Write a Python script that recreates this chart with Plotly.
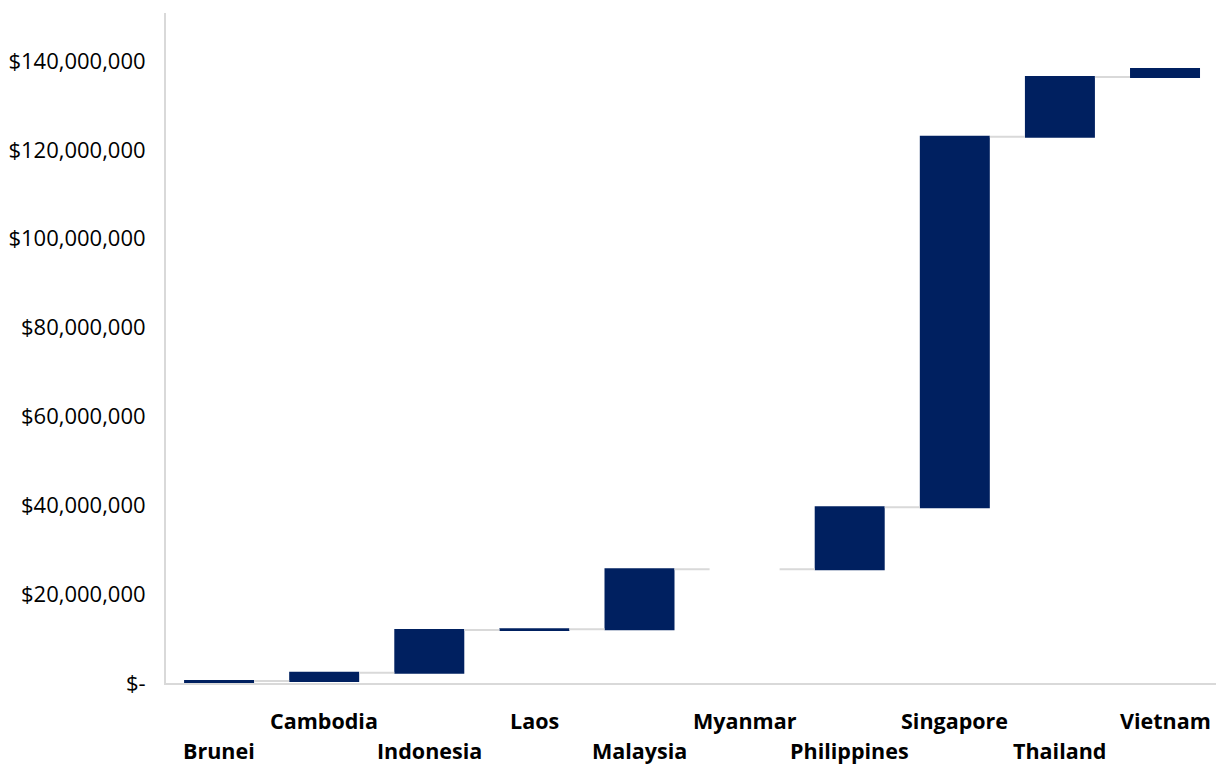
import plotly.graph_objects as go

countries = ["Brunei", "Cambodia", "Indonesia", "Laos", "Malaysia", "Myanmar",
             "Philippines", "Singapore", "Thailand", "Vietnam"]
values = [450000, 1870000, 9600000, 150000, 13550000, 0,
          13950000, 83350000, 13450000, 1800000]
tick_vals = [0, 20000000, 40000000, 60000000, 80000000, 100000000, 120000000, 140000000]
tick_text = ["$-", "$20,000,000", "$40,000,000", "$60,000,000", "$80,000,000",
             "$100,000,000", "$120,000,000", "$140,000,000"]
label_row = [1, 0, 1, 0, 1, 0, 1, 0, 1, 0]  # 0 = upper row, 1 = lower row

BAR = "#002060"
GRAY = "#D9D9D9"
FONT = "Open Sans"

fig = go.Figure(go.Waterfall(
    x=countries,
    y=values,
    measure=["relative"] * len(values),
    increasing=dict(marker=dict(color=BAR)),
    decreasing=dict(marker=dict(color=BAR)),
    totals=dict(marker=dict(color=BAR)),
    connector=dict(line=dict(color=GRAY, width=2), mode="between"),
    showlegend=False,
))

for c, r in zip(countries, label_row):
    fig.add_annotation(
        x=c, xref="x", y=0, yref="paper", yanchor="middle",
        yshift=-37 if r == 0 else -67,
        text=c, showarrow=False, borderpad=0,
        font=dict(family=FONT, size=21.5, color="#000000", weight="bold"),
    )

fig.update_layout(
    width=1216, height=765,
    margin=dict(l=166, r=0, t=13, b=82),
    paper_bgcolor="white", plot_bgcolor="white",
    waterfallgap=0.334,
    font=dict(family=FONT, size=22, color="#000000"),
    xaxis=dict(
        range=[-0.505, 9.485],
        showticklabels=False, showgrid=False, zeroline=False,
        showline=True, linecolor=GRAY, linewidth=2, ticks="",
    ),
    yaxis=dict(
        range=[0, 150800000],
        tickvals=tick_vals, ticktext=tick_text,
        showgrid=False, zeroline=False,
        showline=True, linecolor=GRAY, linewidth=2, ticks="",
        ticklabelstandoff=14,
        tickfont=dict(family=FONT, size=22, color="#000000"),
    ),
)

fig.write_html("out.html")
